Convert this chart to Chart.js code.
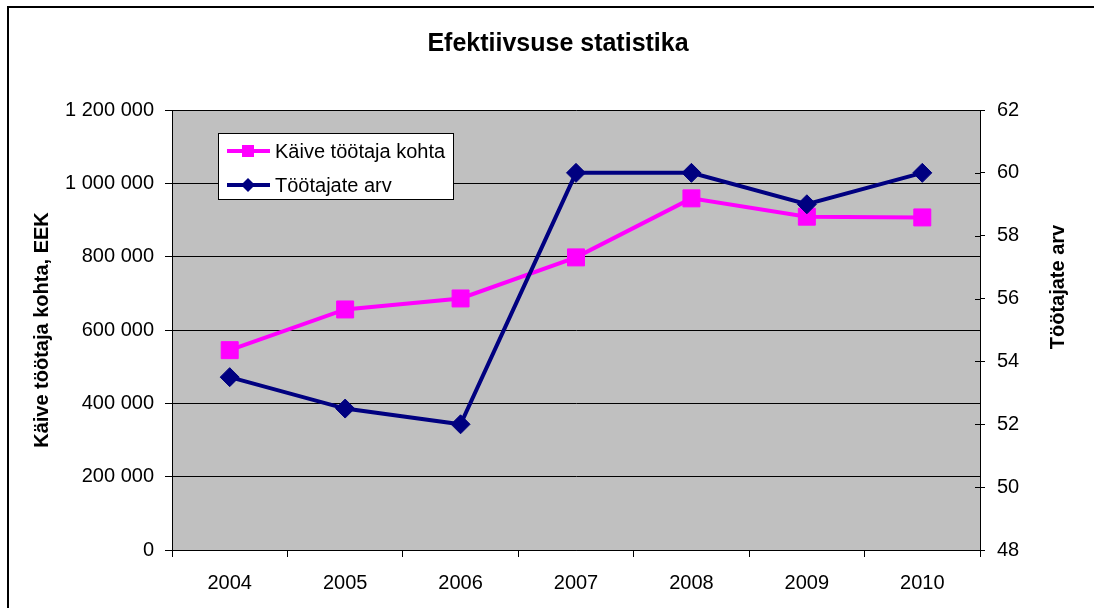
<!DOCTYPE html>
<html>
<head>
<meta charset="utf-8">
<script src="https://cdn.jsdelivr.net/npm/chart.js@4"></script>
<style>
html,body{margin:0;padding:0;background:#fff;overflow:hidden;}
#wrap{position:relative;width:1094px;height:608px;}
</style>
</head>
<body>
<div id="wrap"><canvas id="c" width="1094" height="608"></canvas></div>
<script>
const categories = ['2004','2005','2006','2007','2008','2009','2010'];
const kaive = [545000, 656000, 686000, 798000, 959000, 909000, 907000];
const tootajad = [53.5, 52.5, 52, 60, 60, 59, 60];
const leftTicks = [0, 200000, 400000, 600000, 800000, 1000000, 1200000];
const rightTicks = [48, 50, 52, 54, 56, 58, 60, 62];
const chartTitle = 'Efektiivsuse statistika';
const leftTitle = 'Käive töötaja kohta, EEK';
const rightTitle = 'Töötajate arv';
const seriesNames = ['Käive töötaja kohta', 'Töötajate arv'];

const FONT = "'Liberation Sans', Arial, sans-serif";
const fmt = v => String(v).replace(/\B(?=(\d{3})+(?!\d))/g, ' ');

const decor = {
  id: 'decor',
  beforeDraw(chart) {
    const {ctx, chartArea: a} = chart;
    ctx.save();
    ctx.fillStyle = '#fff';
    ctx.fillRect(0, 0, chart.width, chart.height);
    ctx.strokeStyle = '#000';
    ctx.lineWidth = 2;
    ctx.beginPath();
    ctx.moveTo(8, chart.height + 5);
    ctx.lineTo(8, 7);
    ctx.lineTo(chart.width + 5, 7);
    ctx.stroke();
    ctx.fillStyle = '#C0C0C0';
    ctx.fillRect(a.left, a.top, a.right - a.left, a.bottom - a.top);
    ctx.restore();
  },
  afterDraw(chart) {
    const {ctx} = chart;
    ctx.save();
    // inner part of right axis tick marks
    const y2 = chart.scales.y2;
    ctx.strokeStyle = '#000';
    ctx.lineWidth = 1;
    y2.ticks.forEach(t => {
      const p = Math.round(y2.getPixelForValue(t.value)) + 0.5;
      ctx.beginPath();
      ctx.moveTo(y2.left - 5, p);
      ctx.lineTo(y2.left, p);
      ctx.stroke();
    });
    // right axis title (reads bottom to top)
    ctx.fillStyle = '#000';
    ctx.font = 'bold 20px ' + FONT;
    ctx.textAlign = 'center';
    ctx.textBaseline = 'alphabetic';
    ctx.translate(1064, 287);
    ctx.rotate(-Math.PI / 2);
    ctx.fillText(rightTitle, 0, 0);
    ctx.restore();

    // legend
    ctx.save();
    const bx = 218.5, by = 133.5, bw = 235, bh = 66;
    ctx.fillStyle = '#fff';
    ctx.fillRect(bx, by, bw, bh);
    ctx.strokeStyle = '#000';
    ctx.lineWidth = 1;
    ctx.strokeRect(bx, by, bw, bh);
    const rows = [151, 185];
    chart.data.datasets.forEach((ds, i) => {
      const cy = rows[i];
      ctx.strokeStyle = ds.borderColor;
      ctx.lineWidth = 4;
      ctx.beginPath();
      ctx.moveTo(227, cy);
      ctx.lineTo(270, cy);
      ctx.stroke();
      ctx.fillStyle = ds.borderColor;
      if (ds.pointStyle === 'rect') {
        ctx.fillRect(248 - 6, cy - 6, 12, 12);
      } else {
        ctx.beginPath();
        ctx.moveTo(248 - 7, cy);
        ctx.lineTo(248, cy - 7);
        ctx.lineTo(248 + 7, cy);
        ctx.lineTo(248, cy + 7);
        ctx.closePath();
        ctx.fill();
      }
      ctx.fillStyle = '#000';
      ctx.font = '20px ' + FONT;
      ctx.textAlign = 'left';
      ctx.textBaseline = 'middle';
      ctx.fillText(ds.label, 275, cy + 1);
    });
    ctx.restore();
  }
};

new Chart(document.getElementById('c'), {
  type: 'line',
  data: {
    labels: categories,
    datasets: [
      {
        label: seriesNames[0],
        data: kaive,
        yAxisID: 'y',
        borderColor: '#FF00FF',
        backgroundColor: '#FF00FF',
        borderWidth: 4,
        pointStyle: 'rect',
        pointRadius: 12,
        pointHoverRadius: 12,
        pointBorderWidth: 1,
        pointBorderColor: '#FF00FF',
        pointBackgroundColor: '#FF00FF',
        tension: 0,
        order: 1
      },
      {
        label: seriesNames[1],
        data: tootajad,
        yAxisID: 'y2',
        borderColor: '#000080',
        backgroundColor: '#000080',
        borderWidth: 4,
        pointStyle: 'rectRot',
        pointRadius: 9.5,
        pointHoverRadius: 9.5,
        pointBorderWidth: 1,
        pointBorderColor: '#000080',
        pointBackgroundColor: '#000080',
        tension: 0,
        order: 0
      }
    ]
  },
  options: {
    responsive: false,
    animation: false,
    devicePixelRatio: 1,
    layout: {padding: {left: 22, right: 0, top: 0, bottom: 0}},
    plugins: {
      legend: {display: false},
      tooltip: {enabled: false},
      title: {
        display: true,
        text: chartTitle,
        color: '#000',
        font: {family: FONT, size: 25, weight: 'bold', lineHeight: 1.2},
        padding: {top: 29, bottom: 51}
      }
    },
    scales: {
      x: {
        type: 'category',
        offset: true,
        grid: {display: true, drawOnChartArea: false, offset: true, color: '#000', tickLength: 7, lineWidth: 1},
        border: {color: '#000', width: 1},
        ticks: {color: '#000', font: {family: FONT, size: 20}, padding: 14, maxRotation: 0, autoSkip: false},
        afterFit(s) { s.height = 58; }
      },
      y: {
        position: 'left',
        min: leftTicks[0],
        max: leftTicks[leftTicks.length - 1],
        afterBuildTicks(s) { s.ticks = leftTicks.map(v => ({value: v})); },
        grid: {color: '#000', lineWidth: 1, tickLength: 7},
        border: {color: '#000', width: 1},
        ticks: {color: '#000', font: {family: FONT, size: 20}, padding: 11, callback: v => fmt(v)},
        title: {display: true, text: leftTitle, color: '#000', font: {family: FONT, size: 20, weight: 'bold', lineHeight: 1.2}, padding: {top: 8, bottom: 0}},
        afterFit(s) { s.width = 150; }
      },
      y2: {
        position: 'right',
        min: rightTicks[0],
        max: rightTicks[rightTicks.length - 1],
        afterBuildTicks(s) { s.ticks = rightTicks.map(v => ({value: v})); },
        grid: {drawOnChartArea: false, color: '#000', lineWidth: 1, tickLength: 5},
        border: {color: '#000', width: 1},
        ticks: {color: '#000', font: {family: FONT, size: 20}, padding: 12},
        afterFit(s) { s.width = 114; }
      }
    }
  },
  plugins: [decor]
});
</script>
</body>
</html>
